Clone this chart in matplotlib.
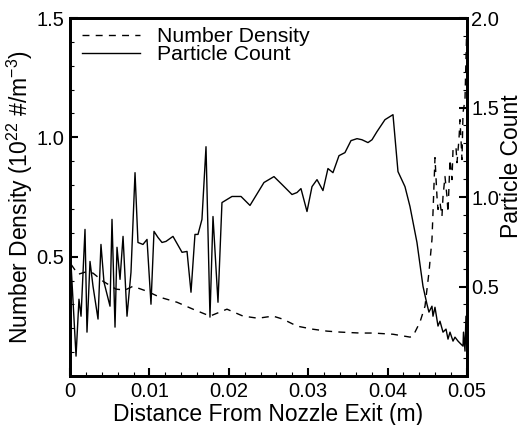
import matplotlib
matplotlib.use("Agg")
import matplotlib.pyplot as plt
from matplotlib.ticker import MultipleLocator, FixedLocator, FuncFormatter

plt.rcParams['font.family'] = ['Liberation Sans', 'DejaVu Sans']
plt.rcParams['mathtext.fontset'] = 'custom'
plt.rcParams['mathtext.rm'] = 'Liberation Sans'
plt.rcParams['mathtext.default'] = 'regular'

# Number Density (left axis, dashed)
nd_x = [0.00013, 0.00101, 0.00189, 0.00290, 0.00416, 0.00579, 0.00693, 0.00793,
        0.00970, 0.01133, 0.01348, 0.01549, 0.01763, 0.01977, 0.02179, 0.02368,
        0.02557, 0.02683, 0.02859, 0.03060, 0.03237, 0.03401, 0.03652, 0.03816,
        0.04068, 0.04282, 0.04320, 0.04408, 0.04471, 0.04521, 0.04559, 0.04572,
        0.04597, 0.04622, 0.04635, 0.04660, 0.04685, 0.04698, 0.04723, 0.04748,
        0.04761, 0.04786, 0.04811, 0.04824, 0.04861, 0.04874, 0.04899, 0.04912,
        0.04937, 0.04950, 0.04975, 0.04987, 0.04998]
nd_y = [0.468, 0.426, 0.435, 0.431, 0.397, 0.364, 0.360, 0.376,
        0.355, 0.330, 0.309, 0.280, 0.251, 0.280, 0.251, 0.242,
        0.251, 0.238, 0.209, 0.196, 0.188, 0.184, 0.180, 0.180,
        0.175, 0.163, 0.167, 0.226, 0.292, 0.434, 0.572, 0.685,
        0.915, 0.752, 0.698, 0.727, 0.669, 0.752, 0.836, 0.752,
        0.685, 0.907, 0.823, 0.948, 0.961, 0.894, 0.991, 1.074,
        0.907, 1.103, 1.158, 1.325, 1.471]

# Particle Count (right axis, solid)
pc_x = [0.00013, 0.00076, 0.00113, 0.00139, 0.00189, 0.00214, 0.00252, 0.00290,
        0.00353, 0.00390, 0.00428, 0.00504, 0.00529, 0.00567, 0.00592, 0.00630,
        0.00668, 0.00718, 0.00768, 0.00819, 0.00856, 0.00919, 0.00970, 0.01020,
        0.01058, 0.01108, 0.01159, 0.01209, 0.01297, 0.01411, 0.01474, 0.01524,
        0.01574, 0.01612, 0.01662, 0.01713, 0.01763, 0.01801, 0.01864, 0.01914,
        0.02040, 0.02154, 0.02267, 0.02443, 0.02569, 0.02670, 0.02796, 0.02859,
        0.02909, 0.02985, 0.03048, 0.03111, 0.03186, 0.03249, 0.03312, 0.03388,
        0.03463, 0.03539, 0.03615, 0.03677, 0.03753, 0.03804, 0.03866, 0.03967,
        0.04068, 0.04131, 0.04219, 0.04282, 0.04370, 0.04446, 0.04496, 0.04521,
        0.04559, 0.04572, 0.04597, 0.04635, 0.04660, 0.04698, 0.04736, 0.04761,
        0.04786, 0.04824, 0.04849, 0.04887, 0.04924, 0.04950, 0.04956, 0.04975,
        0.04987, 0.04997]
pc_y = [0.624, 0.111, 0.429, 0.334, 0.819, 0.245, 0.640, 0.501,
        0.318, 0.735, 0.524, 0.390, 0.875, 0.273, 0.719, 0.540,
        0.780, 0.334, 0.579, 1.136, 0.746, 0.735, 0.763, 0.401,
        0.808, 0.774, 0.746, 0.752, 0.780, 0.691, 0.696, 0.468,
        0.791, 0.791, 0.875, 1.281, 0.329, 0.891, 0.412, 0.969,
        1.003, 1.003, 0.953, 1.081, 1.114, 1.070, 1.014, 1.025,
        1.047, 0.919, 1.058, 1.097, 1.036, 1.159, 1.136, 1.231,
        1.248, 1.315, 1.326, 1.320, 1.304, 1.320, 1.365, 1.432,
        1.460, 1.142, 1.058, 0.947, 0.746, 0.501, 0.401, 0.357,
        0.390, 0.334, 0.384, 0.279, 0.306, 0.245, 0.262, 0.206,
        0.245, 0.195, 0.217, 0.195, 0.178, 0.167, 0.245, 0.139,
        0.334, 0.150]

x_ticks = [0, 0.01, 0.02, 0.03, 0.04, 0.05]
x_tick_labels = ["0", "0.01", "0.02", "0.03", "0.04", "0.05"]
left_ticks = [0.5, 1.0, 1.5]
right_ticks = [0.5, 1.0, 1.5, 2.0]

TFS = 14.5   # tick labels
LFS = 16.5   # axis labels
GFS = 15.3   # legend

fig = plt.figure(figsize=(5.22, 4.25), dpi=100)
ax = fig.add_axes([0.1341, 0.1153, 0.7605, 0.8423])
ax2 = ax.twinx()

l1, = ax.plot(nd_x, nd_y, color='black', lw=1.0, dashes=(5, 4.5), label='Number Density')
l2, = ax2.plot(pc_x, pc_y, color='black', lw=1.0, label='Particle Count')

ax.set_xlim(0, 0.05)
ax.set_ylim(0, 1.5)
ax2.set_ylim(0, 2.0)

ax.xaxis.set_major_locator(FixedLocator(x_ticks))
ax.set_xticklabels(x_tick_labels)
ax.xaxis.set_minor_locator(MultipleLocator(0.002))
ax.yaxis.set_major_locator(FixedLocator(left_ticks))
ax.yaxis.set_major_formatter(FuncFormatter(lambda v, p: f"{v:.1f}"))
ax.yaxis.set_minor_locator(MultipleLocator(0.1))
ax2.yaxis.set_major_locator(FixedLocator(right_ticks))
ax2.yaxis.set_major_formatter(FuncFormatter(lambda v, p: f"{v:.1f}"))
ax2.yaxis.set_minor_locator(MultipleLocator(0.1))

for a in (ax, ax2):
    for s in a.spines.values():
        s.set_linewidth(2.0)
    a.tick_params(which='major', direction='in', length=6, width=1.5, labelsize=TFS)
    a.tick_params(which='minor', direction='in', length=3, width=0.8)
ax.tick_params(axis='y', which='both', left=True, right=False, pad=4)
ax.tick_params(axis='x', which='both', top=False, bottom=True, pad=4.5)
ax2.tick_params(axis='y', which='both', right=True, left=False, pad=3)

ax.set_xlabel('Distance From Nozzle Exit (m)', fontsize=LFS, labelpad=1)
ax.set_ylabel('Number Density (10$^{22}$ #/m$^{-3}$)', fontsize=LFS, labelpad=1)
ax2.set_ylabel('Particle Count', fontsize=LFS)
ax2.yaxis.set_label_coords((512 - 70) / 397, 0.585)
ax2.yaxis.label.set_verticalalignment('center')

ax2.legend([l1, l2], ['Number Density', 'Particle Count'], loc='upper left',
           bbox_to_anchor=(12 / 397, 0.974), frameon=False, fontsize=GFS,
           handlelength=2.75, handletextpad=0.8, labelspacing=-0.05,
           borderaxespad=0.0, borderpad=0.0)

fig.savefig('out.png', dpi=100)
